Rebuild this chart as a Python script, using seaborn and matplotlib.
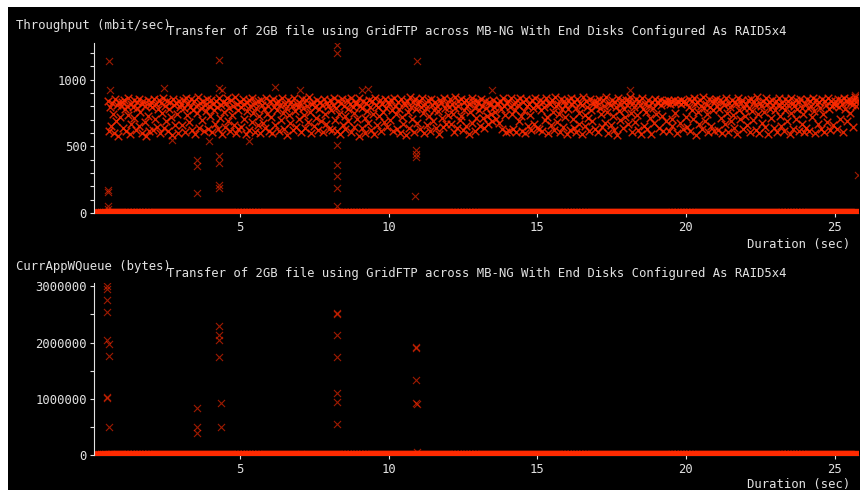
import matplotlib
matplotlib.use("Agg")
import matplotlib.pyplot as plt
import seaborn as sns
from matplotlib.patches import Rectangle
from matplotlib.ticker import FuncFormatter, MultipleLocator

W, H = 864, 493
FG = "#e2e2e2"
RED = "#ff2a00"
FONT = 8.8
TITLE = "Transfer of 2GB file using GridFTP across MB-NG With End Disks Configured As RAID5x4"

# throughput samples (sec, mbit/sec)
tp_time = [
    0.55, 0.59, 0.62, 0.65, 0.69, 0.72, 0.75, 0.79, 0.82, 0.85, 0.89, 0.92, 0.95, 0.99,
    1.02, 1.05, 1.09, 1.12, 1.15, 1.19, 1.22, 1.25, 1.29, 1.32, 1.35, 1.39, 1.42, 1.45, 1.49, 1.52, 1.55, 1.59, 1.62, 1.65, 1.69, 1.72, 1.75, 1.79, 1.82, 1.85, 1.89, 1.92, 1.95, 1.99,
    2.02, 2.05, 2.09, 2.12, 2.15, 2.19, 2.22, 2.25, 2.29, 2.32, 2.35, 2.39, 2.42, 2.45, 2.49, 2.52, 2.55, 2.59, 2.62, 2.65, 2.69, 2.72, 2.75, 2.79, 2.82, 2.85, 2.89, 2.92, 2.95, 2.99,
    3.02, 3.05, 3.09, 3.12, 3.15, 3.19, 3.22, 3.25, 3.29, 3.32, 3.35, 3.39, 3.42, 3.45, 3.49, 3.52, 3.55, 3.59, 3.62, 3.65, 3.69, 3.72, 3.75, 3.79, 3.82, 3.85, 3.89, 3.92, 3.95, 3.99,
    4.02, 4.05, 4.09, 4.12, 4.15, 4.19, 4.22, 4.25, 4.29, 4.32, 4.35, 4.39, 4.42, 4.45, 4.49, 4.52, 4.55, 4.59, 4.62, 4.65, 4.69, 4.72, 4.75, 4.79, 4.82, 4.85, 4.89, 4.92, 4.95, 4.99,
    5.02, 5.05, 5.09, 5.12, 5.15, 5.19, 5.22, 5.25, 5.29, 5.32, 5.35, 5.39, 5.42, 5.45, 5.49, 5.52, 5.55, 5.59, 5.62, 5.65, 5.69, 5.72, 5.75, 5.79, 5.82, 5.85, 5.89, 5.92, 5.95, 5.99,
    6.02, 6.05, 6.09, 6.12, 6.15, 6.19, 6.22, 6.25, 6.29, 6.32, 6.35, 6.39, 6.42, 6.45, 6.49, 6.52, 6.55, 6.59, 6.62, 6.65, 6.69, 6.72, 6.75, 6.79, 6.82, 6.85, 6.89, 6.92, 6.95, 6.99,
    7.02, 7.05, 7.09, 7.12, 7.15, 7.19, 7.22, 7.25, 7.29, 7.32, 7.35, 7.39, 7.42, 7.45, 7.49, 7.52, 7.55, 7.59, 7.62, 7.65, 7.69, 7.72, 7.75, 7.79, 7.82, 7.85, 7.89, 7.92, 7.95, 7.99,
    8.02, 8.05, 8.09, 8.12, 8.15, 8.19, 8.22, 8.25, 8.29, 8.32, 8.35, 8.39, 8.42, 8.45, 8.49, 8.52, 8.55, 8.59, 8.62, 8.65, 8.69, 8.72, 8.75, 8.79, 8.82, 8.85, 8.89, 8.92, 8.95, 8.99,
    9.02, 9.05, 9.09, 9.12, 9.15, 9.19, 9.22, 9.25, 9.29, 9.32, 9.35, 9.39, 9.42, 9.45, 9.49, 9.52, 9.55, 9.59, 9.62, 9.65, 9.69, 9.72, 9.75, 9.79, 9.82, 9.85, 9.89, 9.92, 9.95, 9.99,
    10.02, 10.05, 10.09, 10.12, 10.15, 10.19, 10.22, 10.25, 10.29, 10.32, 10.35, 10.39, 10.42, 10.45, 10.49, 10.52, 10.55, 10.59, 10.62, 10.65, 10.69, 10.72, 10.75, 10.79, 10.82, 10.85, 10.89, 10.92, 10.95, 10.99,
    11.02, 11.05, 11.09, 11.12, 11.15, 11.19, 11.22, 11.25, 11.29, 11.32, 11.35, 11.39, 11.42, 11.45, 11.49, 11.52, 11.55, 11.59, 11.62, 11.65, 11.69, 11.72, 11.75, 11.79, 11.82, 11.85, 11.89, 11.92, 11.95, 11.99,
    12.02, 12.05, 12.09, 12.12, 12.15, 12.19, 12.22, 12.25, 12.29, 12.32, 12.35, 12.39, 12.42, 12.45, 12.49, 12.52, 12.55, 12.59, 12.62, 12.65, 12.69, 12.72, 12.75, 12.79, 12.82, 12.85, 12.89, 12.92, 12.95, 12.99,
    13.02, 13.05, 13.09, 13.12, 13.15, 13.19, 13.22, 13.25, 13.29, 13.32, 13.35, 13.39, 13.42, 13.45, 13.49, 13.52, 13.55, 13.59, 13.62, 13.65, 13.69, 13.72, 13.75, 13.79, 13.82, 13.85, 13.89, 13.92, 13.95, 13.99,
    14.02, 14.05, 14.09, 14.12, 14.15, 14.19, 14.22, 14.25, 14.29, 14.32, 14.35, 14.39, 14.42, 14.45, 14.49, 14.52, 14.55, 14.59, 14.62, 14.65, 14.69, 14.72, 14.75, 14.79, 14.82, 14.85, 14.89, 14.92, 14.95, 14.99,
    15.02, 15.05, 15.09, 15.12, 15.15, 15.19, 15.22, 15.25, 15.29, 15.32, 15.35, 15.39, 15.42, 15.45, 15.49, 15.52, 15.55, 15.59, 15.62, 15.65, 15.69, 15.72, 15.75, 15.79, 15.82, 15.85, 15.89, 15.92, 15.95, 15.99,
    16.02, 16.05, 16.09, 16.12, 16.15, 16.19, 16.22, 16.25, 16.29, 16.32, 16.35, 16.39, 16.42, 16.45, 16.49, 16.52, 16.55, 16.59, 16.62, 16.65, 16.69, 16.72, 16.75, 16.79, 16.82, 16.85, 16.89, 16.92, 16.95, 16.99,
    17.02, 17.05, 17.09, 17.12, 17.15, 17.19, 17.22, 17.25, 17.29, 17.32, 17.35, 17.39, 17.42, 17.45, 17.49, 17.52, 17.55, 17.59, 17.62, 17.65, 17.69, 17.72, 17.75, 17.79, 17.82, 17.85, 17.89, 17.92, 17.95, 17.99,
    18.02, 18.05, 18.09, 18.12, 18.15, 18.19, 18.22, 18.25, 18.29, 18.32, 18.35, 18.39, 18.42, 18.45, 18.49, 18.52, 18.55, 18.59, 18.62, 18.65, 18.69, 18.72, 18.75, 18.79, 18.82, 18.85, 18.89, 18.92, 18.95, 18.99,
    19.02, 19.05, 19.09, 19.12, 19.15, 19.19, 19.22, 19.25, 19.29, 19.32, 19.35, 19.39, 19.42, 19.45, 19.49, 19.52, 19.55, 19.59, 19.62, 19.65, 19.69, 19.72, 19.75, 19.79, 19.82, 19.85, 19.89, 19.92, 19.95, 19.99,
    20.02, 20.05, 20.09, 20.12, 20.15, 20.19, 20.22, 20.25, 20.29, 20.32, 20.35, 20.39, 20.42, 20.45, 20.49, 20.52, 20.55, 20.59, 20.62, 20.65, 20.69, 20.72, 20.75, 20.79, 20.82, 20.85, 20.89, 20.92, 20.95, 20.99,
    21.02, 21.05, 21.09, 21.12, 21.15, 21.19, 21.22, 21.25, 21.29, 21.32, 21.35, 21.39, 21.42, 21.45, 21.49, 21.52, 21.55, 21.59, 21.62, 21.65, 21.69, 21.72, 21.75, 21.79, 21.82, 21.85, 21.89, 21.92, 21.95, 21.99,
    22.02, 22.05, 22.09, 22.12, 22.15, 22.19, 22.22, 22.25, 22.29, 22.32, 22.35, 22.39, 22.42, 22.45, 22.49, 22.52, 22.55, 22.59, 22.62, 22.65, 22.69, 22.72, 22.75, 22.79, 22.82, 22.85, 22.89, 22.92, 22.95, 22.99,
    23.02, 23.05, 23.09, 23.12, 23.15, 23.19, 23.22, 23.25, 23.29, 23.32, 23.35, 23.39, 23.42, 23.45, 23.49, 23.52, 23.55, 23.59, 23.62, 23.65, 23.69, 23.72, 23.75, 23.79, 23.82, 23.85, 23.89, 23.92, 23.95, 23.99,
    24.02, 24.05, 24.09, 24.12, 24.15, 24.19, 24.22, 24.25, 24.29, 24.32, 24.35, 24.39, 24.42, 24.45, 24.49, 24.52, 24.55, 24.59, 24.62, 24.65, 24.69, 24.72, 24.75, 24.79, 24.82, 24.85, 24.89, 24.92, 24.95, 24.99,
    25.02, 25.05, 25.09, 25.12, 25.15, 25.19, 25.22, 25.25, 25.29, 25.32, 25.35, 25.39, 25.42, 25.45, 25.49, 25.52, 25.55, 25.59, 25.62, 25.65, 25.69, 25.72, 25.75,
]
tp_mbit = [
    842, 615, 798, 655, 823, 742, 601, 857, 688, 812, 579, 836, 721, 804,
    829, 640, 851, 783, 612, 806, 735, 862, 594, 818, 671, 797, 845, 709, 626, 833, 788, 652, 856, 760, 603, 821, 839, 684, 799, 574, 848, 727, 617, 810,
    836, 795, 623, 858, 702, 814, 647, 781, 849, 598, 826, 753, 866, 635, 804, 689, 842, 612, 777, 831, 718, 586, 853, 808, 663, 824, 741, 601, 839, 792,
    817, 658, 845, 790, 607, 861, 733, 824, 681, 798, 852, 620, 772, 838, 594, 806, 747, 869, 641, 827, 784, 699, 843, 615, 812, 766, 856, 632, 801, 725,
    850, 604, 819, 776, 668, 841, 795, 627, 864, 712, 808, 589, 833, 757, 646, 822, 859, 693, 787, 615, 846, 738, 803, 658, 871, 597, 816, 770, 629, 835,
    797, 642, 855, 815, 708, 593, 830, 768, 846, 621, 803, 685, 862, 749, 610, 825, 790, 657, 840, 728, 598, 851, 812, 676, 783, 636, 866, 744, 805, 617,
    838, 720, 601, 857, 794, 662, 827, 775, 843, 612, 809, 697, 863, 751, 630, 820, 786, 585, 848, 736, 672, 831, 801, 623, 859, 764, 644, 816, 792, 705,
    826, 611, 853, 789, 734, 640, 844, 805, 680, 867, 758, 597, 818, 832, 652, 796, 713, 849, 620, 778, 836, 692, 810, 604, 857, 742, 665, 823, 800, 631,
    845, 773, 626, 812, 860, 699, 787, 615, 839, 746, 592, 828, 854, 661, 803, 725, 633, 847, 779, 687, 819, 864, 608, 797, 752, 644, 834, 816, 703, 580,
    859, 806, 639, 784, 841, 715, 601, 825, 768, 676, 850, 792, 622, 837, 743, 594, 866, 811, 657, 798, 731, 845, 613, 820, 761, 683, 853, 789, 648, 829,
    814, 694, 848, 775, 618, 862, 801, 739, 630, 836, 783, 597, 855, 720, 665, 824, 808, 587, 843, 756, 641, 870, 795, 707, 831, 610, 852, 777, 673, 818,
    840, 627, 793, 866, 748, 602, 821, 786, 659, 847, 730, 615, 858, 812, 690, 776, 834, 638, 802, 762, 595, 851, 826, 712, 645, 863, 790, 669, 815, 737,
    797, 852, 664, 820, 741, 608, 869, 784, 636, 838, 806, 698, 857, 725, 620, 829, 771, 653, 846, 799, 589, 817, 758, 677, 860, 832, 614, 788, 716, 843,
    823, 770, 649, 855, 806, 712, 637, 842, 788, 726, 664, 834, 810, 743, 690, 851, 796, 758, 702, 828, 815, 672, 843, 780, 629, 861, 803, 733, 607, 825,
    838, 612, 794, 859, 745, 631, 821, 776, 604, 848, 809, 688, 866, 727, 618, 830, 762, 597, 853, 801, 655, 817, 738, 626, 844, 785, 670, 862, 812, 641,
    805, 633, 851, 769, 614, 836, 792, 700, 864, 723, 598, 828, 815, 662, 847, 754, 621, 873, 799, 685, 820, 741, 609, 856, 781, 646, 839, 808, 717, 592,
    846, 778, 625, 818, 861, 704, 637, 833, 791, 604, 852, 747, 668, 826, 809, 589, 867, 734, 650, 841, 796, 716, 615, 855, 772, 692, 820, 837, 629, 803,
    829, 611, 857, 786, 739, 643, 844, 801, 674, 868, 756, 600, 823, 812, 657, 849, 727, 620, 835, 793, 588, 860, 768, 699, 816, 847, 636, 782, 722, 851,
    813, 664, 839, 872, 750, 607, 826, 795, 681, 854, 733, 622, 842, 808, 594, 865, 777, 652, 820, 761, 633, 848, 800, 710, 591, 836, 789, 673, 858, 744,
    836, 822, 640, 849, 811, 729, 616, 842, 833, 690, 827, 845, 612, 818, 838, 705, 655, 851, 824, 749, 603, 840, 829, 677, 846, 815, 627, 835, 843, 718,
    825, 648, 853, 797, 612, 839, 776, 702, 861, 815, 587, 832, 758, 666, 848, 806, 629, 870, 787, 691, 819, 741, 604, 856, 798, 654, 837, 770, 617, 843,
    858, 803, 626, 781, 844, 713, 597, 829, 809, 665, 866, 752, 611, 823, 795, 688, 851, 737, 640, 834, 817, 592, 862, 776, 703, 828, 846, 633, 790, 724,
    817, 659, 849, 788, 611, 856, 766, 695, 833, 812, 624, 868, 745, 601, 826, 799, 678, 841, 760, 642, 859, 820, 589, 835, 783, 716, 850, 807, 636, 772,
    842, 606, 813, 864, 730, 653, 828, 795, 618, 853, 770, 687, 839, 810, 596, 861, 748, 632, 824, 802, 705, 847, 779, 614, 832, 857, 668, 791, 739, 609,
    826, 640, 857, 784, 613, 838, 801, 721, 863, 765, 598, 845, 816, 670, 829, 790, 631, 852, 744, 604, 837, 812, 685, 866, 777, 622, 843, 805, 657, 820,
    839, 812, 628, 856, 795, 702, 848, 820, 610, 865, 777, 843, 690, 829, 858, 752, 836, 812, 645, 851, 868, 806, 842,
]

# isolated throughput readings away from the main band
tp_out_time = [0.58, 0.62, 0.56, 0.57, 0.55, 0.56, 3.55, 3.55, 3.55, 4.31, 4.31, 4.38, 4.31, 4.31,
               4.30, 4.30, 2.45, 6.18, 5.30, 2.70, 3.96, 8.28, 8.28, 8.28, 8.27, 8.27, 8.27, 8.27,
               10.96, 10.92, 10.92, 10.93, 10.89, 13.47, 9.10, 9.30, 7.02, 18.12, 25.70, 25.78]
tp_out_mbit = [1137, 920, 175, 155, 50, 30, 400, 355, 150, 1150, 937, 920, 425, 375,
               212, 187, 937, 945, 537, 550, 537, 1262, 1198, 512, 362, 275, 187, 50,
               1137, 475, 445, 420, 125, 920, 925, 930, 920, 920, 887, 287]

# readings of zero before the transfer starts
zero_lead_time = [0.12, 0.18, 0.25, 0.32, 0.38, 0.45, 0.51]

# application write queue (bytes), non-zero readings
q_time = [0.54, 0.54, 0.54, 0.54, 0.52, 0.60, 0.60, 0.52, 0.53, 0.60, 0.67,
          3.55, 3.55, 3.55, 4.31, 4.31, 4.31, 4.28, 4.35, 4.35,
          8.27, 8.28, 8.28, 8.26, 8.28, 8.26, 8.28,
          10.91, 10.92, 10.91, 10.94, 10.92, 10.94, 7.07]
q_bytes = [3000000, 2950000, 2750000, 2540000, 2050000, 1970000, 1770000, 1020000, 1040000, 490000, 20000,
           830000, 490000, 400000, 2290000, 2140000, 2040000, 1750000, 920000, 490000,
           2500000, 2520000, 2130000, 1750000, 1100000, 940000, 550000,
           1900000, 1920000, 1340000, 910000, 930000, 60000, 20000]

sns.set_style("ticks")
plt.rcParams["font.family"] = ["DejaVu Sans Mono"]


def px(x, y):
    return x / W, 1 - y / H


def crosses(ax, x, y, alpha=0.62, lw=0.8, s=26):
    sns.scatterplot(x=x, y=y, ax=ax, marker="x", s=s, color=RED,
                    linewidth=lw, alpha=alpha, legend=False)


fig = plt.figure(figsize=(W / 100, H / 100), dpi=100, facecolor="white")
fig.add_artist(Rectangle(px(8, 490), 852 / W, 483 / H, transform=fig.transFigure,
                         facecolor="black", edgecolor="none", zorder=-10))

ax_top = fig.add_axes([94 / W, 1 - 213 / H, 764 / W, 170 / H])
ax_bot = fig.add_axes([94 / W, 1 - 455 / H, 764 / W, 172 / H])

zero_time = zero_lead_time + tp_time
zero_val = [0] * len(zero_time)

crosses(ax_top, zero_time, zero_val, alpha=1.0, lw=1.6, s=36)
crosses(ax_top, tp_time, tp_mbit, alpha=0.85, lw=1.05, s=30)
crosses(ax_top, tp_out_time, tp_out_mbit)

crosses(ax_bot, zero_time, zero_val, alpha=1.0, lw=1.6, s=36)
crosses(ax_bot, q_time, q_bytes)

ax_top.set_ylim(0, 1275)
ax_top.yaxis.set_major_locator(MultipleLocator(500))
ax_top.yaxis.set_minor_locator(MultipleLocator(100))

ax_bot.set_ylim(0, 3060000)
ax_bot.yaxis.set_major_locator(MultipleLocator(1000000))
ax_bot.yaxis.set_minor_locator(MultipleLocator(500000))
ax_bot.yaxis.set_major_formatter(FuncFormatter(lambda v, p: f"{v:.0f}"))

for ax in (ax_top, ax_bot):
    ax.set_facecolor("black")
    ax.grid(False)
    ax.set_xlabel("")
    ax.set_ylabel("")
    ax.set_xlim(0.09, 25.79)
    ax.xaxis.set_major_locator(MultipleLocator(5))
    for side in ("top", "right"):
        ax.spines[side].set_visible(False)
    for side in ("left", "bottom"):
        ax.spines[side].set_color(FG)
        ax.spines[side].set_linewidth(0.8)
    ax.spines["bottom"].set_zorder(0.5)
    ax.tick_params(axis="both", which="both", direction="out", length=3,
                   width=0.8, colors=FG, labelsize=FONT)
    ax.tick_params(axis="y", pad=2)
    ax.tick_params(axis="x", pad=3)

text_kw = dict(color=FG, fontsize=FONT, va="baseline")
fig.text(*px(16, 29), "Throughput (mbit/sec)", ha="left", **text_kw)
fig.text(*px(167, 35), TITLE, ha="left", **text_kw)
fig.text(*px(850, 248), "Duration (sec)", ha="right", **text_kw)

fig.text(*px(16, 270), "CurrAppWQueue (bytes)", ha="left", **text_kw)
fig.text(*px(167, 277), TITLE, ha="left", **text_kw)
fig.text(*px(850, 488), "Duration (sec)", ha="right", **text_kw)

fig.savefig("out.png", dpi=100, facecolor="white")
